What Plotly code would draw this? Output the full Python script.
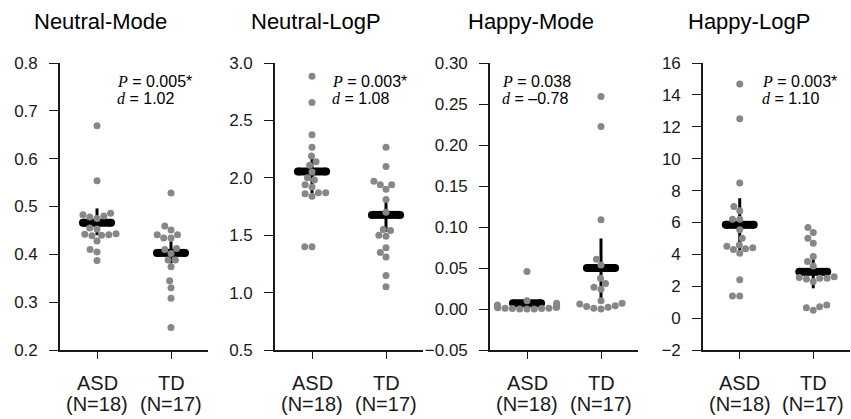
import numpy as np
import plotly.graph_objects as go

# ---------------- data ----------------
titles = ["Neutral-Mode", "Neutral-LogP", "Happy-Mode", "Happy-LogP"]
group_names = ["ASD", "TD"]
group_sizes = ["(N=18)", "(N=17)"]

neutral_mode_asd = [0.669, 0.554, 0.486, 0.483, 0.480, 0.478, 0.475, 0.455, 0.453,
                    0.443, 0.442, 0.441, 0.440, 0.439, 0.428, 0.410, 0.405, 0.387]
neutral_mode_td = [0.528, 0.459, 0.451, 0.441, 0.441, 0.434, 0.434, 0.412, 0.410,
                   0.402, 0.388, 0.388, 0.374, 0.345, 0.330, 0.308, 0.247]

neutral_logp_asd = [2.884, 2.657, 2.375, 2.267, 2.190, 2.140, 2.110, 2.050, 2.000,
                    1.980, 1.940, 1.920, 1.870, 1.870, 1.860, 1.840, 1.400, 1.400]
neutral_logp_td = [2.267, 2.099, 1.970, 1.940, 1.940, 1.900, 1.810, 1.700, 1.550,
                   1.540, 1.500, 1.490, 1.390, 1.350, 1.310, 1.150, 1.050]

happy_mode_asd = [0.0456, 0.0102, 0.007, 0.005, 0.004, 0.003, 0.003, 0.0025, 0.002,
                  0.002, 0.0015, 0.001, 0.001, 0.0005, 0.0005, 0.0, 0.0, 0.0]
happy_mode_td = [0.259, 0.2227, 0.1087, 0.0607, 0.0538, 0.0375, 0.031, 0.0265, 0.024,
                 0.010, 0.007, 0.006, 0.004, 0.003, 0.002, 0.001, 0.0]

happy_logp_asd = [14.68, 12.50, 8.47, 7.00, 6.73, 6.20, 6.20, 5.54, 5.01,
                  4.59, 4.50, 4.42, 4.35, 4.30, 4.07, 2.40, 1.39, 1.39]
happy_logp_td = [5.68, 5.37, 5.01, 4.70, 3.86, 3.55, 3.27, 2.60, 2.55,
                 2.50, 2.50, 2.45, 2.29, 0.83, 0.72, 0.65, 0.50]

mean_asd = [0.466, 2.055, 0.007, 5.85]
mean_td = [0.403, 1.677, 0.050, 2.90]
ci_asd_low = [0.440, 1.866, 0.003, 4.10]
ci_asd_high = [0.496, 2.186, 0.011, 7.52]
ci_td_low = [0.381, 1.530, 0.013, 1.87]
ci_td_high = [0.427, 1.790, 0.086, 3.76]

p_values = ["0.005*", "0.003*", "0.038", "0.003*"]
d_values = ["1.02", "1.08", "\u20130.78", "1.10"]

y_ranges = [[0.2, 0.8], [0.5, 3.0], [-0.05, 0.30], [-2, 16]]
y_dticks = [0.1, 0.5, 0.05, 2]
y_formats = [".1f", ".1f", ".2f", "d"]

panels = [
    (neutral_mode_asd, neutral_mode_td),
    (neutral_logp_asd, neutral_logp_td),
    (happy_mode_asd, happy_mode_td),
    (happy_logp_asd, happy_logp_td),
]

# ---------------- layout geometry ----------------
W, H = 851, 419
x_px = [(60, 208), (275, 423), (490, 638), (703, 850)]
y_top, y_bot = 63, 350
plot_h = y_bot - y_top
ydom = [(H - y_bot) / H, (H - y_top) / H]

FONT = "Liberation Sans, Arial, sans-serif"
SERIF = "Liberation Serif, Times New Roman, serif"
DOT = "#878787"
INK = "#1a1a1a"
DIAM = 7.3  # swarm spacing in px


def swarm_offsets(vals, ppu_y, ppu_x, half_width=0.4, diam=DIAM):
    vals = np.asarray(vals, float)
    ys = vals * ppu_y
    order = np.argsort(vals, kind="stable")
    px_list, py_list = [], []
    off = np.zeros(len(vals))
    for i in order:
        y = ys[i]
        nb = [(a, b) for a, b in zip(px_list, py_list) if abs(b - y) < diam]
        cands = [0.0]
        for a, b in nb:
            dx = np.sqrt(max(diam ** 2 - (y - b) ** 2, 0.0))
            cands += [a - dx, a + dx]
        cands = sorted(cands, key=lambda c: (round(abs(c), 6), c))
        chosen = cands[-1]
        for c in cands:
            if all((c - a) ** 2 + (y - b) ** 2 >= diam ** 2 - 1e-6 for a, b in nb):
                chosen = c
                break
        px_list.append(chosen)
        py_list.append(y)
        off[i] = chosen
    lim = half_width * ppu_x
    off = np.clip(off, -lim, lim)
    return off / ppu_x


fig = go.Figure()
annotations = []

for k, (asd, td) in enumerate(panels):
    xa = "x" if k == 0 else f"x{k + 1}"
    ya = "y" if k == 0 else f"y{k + 1}"
    x0, x1 = x_px[k]
    ppu_x = (x1 - x0) / 2.0
    span = y_ranges[k][1] - y_ranges[k][0]
    ppu_y = plot_h / span

    means = [mean_asd[k], mean_td[k]]
    lows = [ci_asd_low[k], ci_td_low[k]]
    highs = [ci_asd_high[k], ci_td_high[k]]

    # mean bars and CI lines (drawn below the dots)
    for g in range(2):
        fig.add_trace(go.Scatter(
            x=[g, g], y=[lows[g], highs[g]], mode="lines",
            line=dict(color="black", width=3), xaxis=xa, yaxis=ya,
            showlegend=False, hoverinfo="skip"))
        fig.add_trace(go.Scatter(
            x=[g - 0.19, g + 0.19], y=[means[g], means[g]], mode="lines+markers",
            line=dict(color="black", width=8), marker=dict(color="black", size=8),
            xaxis=xa, yaxis=ya, showlegend=False, hoverinfo="skip"))

    for g, vals in enumerate((asd, td)):
        offs = swarm_offsets(vals, ppu_y, ppu_x)
        fig.add_trace(go.Scatter(
            x=g + offs, y=vals, mode="markers",
            marker=dict(color=DOT, size=7, line=dict(width=0)),
            xaxis=xa, yaxis=ya, showlegend=False))

    dom_x = [x0 / W, x1 / W]
    axis_common = dict(showline=True, linecolor=INK, linewidth=1.6, ticks="outside",
                       tickcolor=INK, tickwidth=1.4, showgrid=False, zeroline=False,
                       automargin=False)
    xkey = "xaxis" if k == 0 else f"xaxis{k + 1}"
    ykey = "yaxis" if k == 0 else f"yaxis{k + 1}"
    fig.update_layout(**{
        xkey: dict(domain=dom_x, range=[-0.5, 1.5], tickvals=[0, 1],
                   showticklabels=False, ticklen=7, anchor=ya, **axis_common),
        ykey: dict(domain=ydom, range=y_ranges[k], dtick=y_dticks[k],
                   tick0=y_ranges[k][0], tickformat=y_formats[k], ticklen=9,
                   ticklabelstandoff=8,
                   anchor=xa, tickfont=dict(family=FONT, size=17, color=INK),
                   **axis_common),
    })

    # category labels (two lines)
    for g in range(2):
        annotations.append(dict(
            text=group_names[g], x=g, y=(H - 383) / H, xref=xa, yref="paper",
            xanchor="center", yanchor="middle", showarrow=False,
            font=dict(family=FONT, size=20, color=INK)))
        annotations.append(dict(
            text=group_sizes[g], x=g, y=(H - 404) / H, xref=xa, yref="paper",
            xanchor="center", yanchor="middle", showarrow=False,
            font=dict(family=FONT, size=20, color=INK)))

    # titles
    title_cx = [100, 316, 531, 749][k]
    annotations.append(dict(
        text=titles[k], x=title_cx / W, y=1 - 21 / H, xref="paper", yref="paper",
        xanchor="center", yanchor="middle", showarrow=False,
        font=dict(family=FONT, size=22, color="black")))

    # statistics text
    tx = [0.372, 0.372, 0.068, 0.388][k]
    annotations.append(dict(
        text=f"<span style='font-family:{SERIF}'><i>P</i></span> = {p_values[k]}",
        x=tx, y=(y_bot - 81) / plot_h, xref=f"{xa} domain", yref=f"{ya} domain",
        xanchor="left", yanchor="middle", showarrow=False,
        font=dict(family=FONT, size=16, color="black")))
    annotations.append(dict(
        text=f"<span style='font-family:{SERIF}'><i>d</i></span> = {d_values[k]}",
        x=tx, y=(y_bot - 98) / plot_h, xref=f"{xa} domain", yref=f"{ya} domain",
        xanchor="left", yanchor="middle", showarrow=False,
        font=dict(family=FONT, size=16, color="black")))

fig.update_layout(
    width=W, height=H, margin=dict(l=0, r=0, t=0, b=0),
    paper_bgcolor="white", plot_bgcolor="white",
    annotations=annotations, showlegend=False,
    font=dict(family=FONT, color=INK),
)

fig.write_html(
    "out.html",
    config={"displayModeBar": False},
    post_script="document.body.style.margin='0';document.body.style.overflow='hidden';",
)
